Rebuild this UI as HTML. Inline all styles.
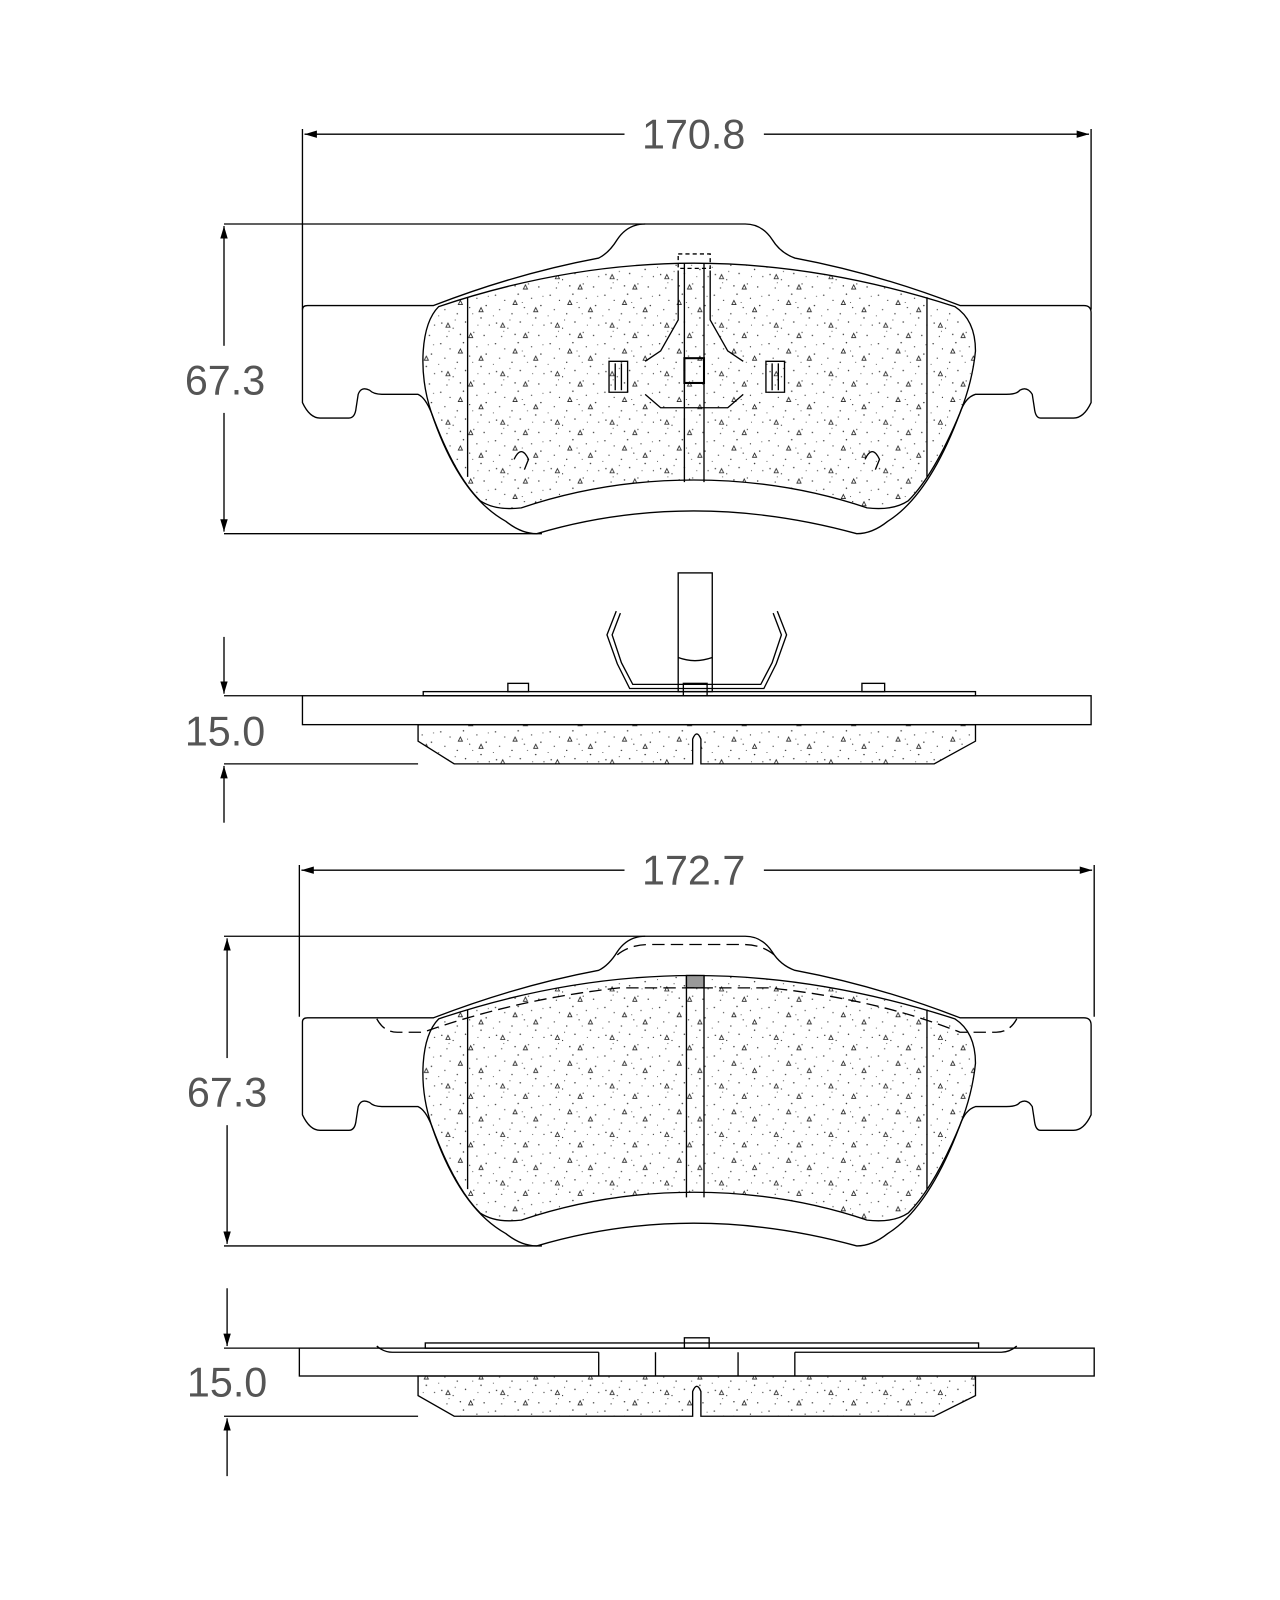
<!DOCTYPE html>
<html><head><meta charset="utf-8"><style>
html,body{margin:0;padding:0;background:#fff;}
svg{display:block;}
text{font-family:"Liberation Sans Narrow","Liberation Sans",sans-serif;font-size:40px;fill:#555;}
</style></head><body>
<svg width="1280" height="1600" viewBox="0 0 1240 1550" xmlns="http://www.w3.org/2000/svg">
<defs>
<pattern id="dots" width="53" height="47" patternUnits="userSpaceOnUse">
<g fill="#333">
<circle cx="3" cy="4" r="0.7"/><circle cx="12" cy="9" r="0.6"/><circle cx="25" cy="3" r="0.7"/><circle cx="38" cy="7" r="0.6"/><circle cx="47" cy="14" r="0.7"/>
<circle cx="7" cy="18" r="0.6"/><circle cx="19" cy="22" r="0.7"/><circle cx="31" cy="16" r="0.6"/><circle cx="42" cy="26" r="0.7"/><circle cx="50" cy="33" r="0.6"/>
<circle cx="4" cy="31" r="0.7"/><circle cx="15" cy="36" r="0.6"/><circle cx="27" cy="30" r="0.7"/><circle cx="35" cy="40" r="0.6"/><circle cx="45" cy="43" r="0.7"/>
<circle cx="9" cy="44" r="0.6"/><circle cx="22" cy="42" r="0.7"/><circle cx="29" cy="11" r="0.5"/><circle cx="17" cy="28" r="0.5"/><circle cx="39" cy="33" r="0.5"/>
<circle cx="1" cy="24" r="0.5"/><circle cx="34" cy="22" r="0.5"/><circle cx="49" cy="5" r="0.5"/><circle cx="11" cy="39" r="0.5"/>
</g>
<g fill="none" stroke="#222" stroke-width="0.8">
<path d="M20,13 l2,-4 l2,4 z"/><path d="M40,20 l2,-4 l2,4 z"/><path d="M8,35 l2,-4 l2,4 z"/><path d="M30,45 l2,-4 l2,4 z"/>
</g>
</pattern>
<marker id="ar" viewBox="0 0 10 10" refX="10" refY="5" markerWidth="12" markerHeight="12" orient="auto-start-reverse" markerUnits="userSpaceOnUse">
<path d="M0,2 L10,5 L0,8 z" fill="#000"/>
</marker>
</defs>

<g fill="none" stroke="#000" stroke-width="1.3">
<!-- ===== Pad 1 top view ===== -->
<line x1="293" y1="125" x2="293" y2="300"/>
<line x1="1057" y1="125" x2="1057" y2="300"/>
<line x1="295" y1="130" x2="605" y2="130" marker-start="url(#ar)"/>
<line x1="740" y1="130" x2="1055" y2="130" marker-end="url(#ar)"/>
<line x1="217" y1="217" x2="625" y2="217"/>
<line x1="217" y1="517" x2="525" y2="517"/>
<line x1="217" y1="219" x2="217" y2="335" marker-start="url(#ar)"/>
<line x1="217" y1="400" x2="217" y2="515" marker-end="url(#ar)"/>

<g id="plate">
<path d="M293,300 Q293,296 298,296 L420,296 Q500,265 580,250 Q590,245 598,232 Q608,217 625,217 L722,217 Q738,217 748,232 Q756,245 770,250 Q850,265 930,296 L1050,296 Q1057,296 1057,303 L1057,390 Q1050,405 1040,405 L1008,405 Q1003,405 1002,395 L1000,382 Q995,374 988,378 Q985,382 975,382 L945,382 Q935,385 930,400 Q900,480 860,505 Q845,517 830,517 Q750,495 672,495 Q594,495 520,517 Q505,517 490,505 Q445,480 418,400 Q412,385 405,382 L370,382 Q362,382 358,378 Q350,374 347,382 L345,395 Q344,405 338,405 L310,405 Q300,405 293,390 Z"/>
<path d="M425,297 Q550,255 672,255 Q795,255 925,297 Q945,310 945,340 Q942,370 930,400 Q905,460 880,485 Q865,495 840,492 Q760,465 672,465 Q585,465 505,492 Q480,495 465,485 Q440,460 418,400 Q408,370 410,340 Q412,310 425,297 Z" fill="url(#dots)"/>
<line x1="453" y1="288" x2="453" y2="462"/>
<line x1="898" y1="288" x2="898" y2="462"/>
</g>
<line x1="663" y1="255" x2="663" y2="467"/>
<line x1="682" y1="255" x2="682" y2="467"/>
<rect x="657" y="246" width="31" height="14" stroke-dasharray="4,3"/>
<rect x="663" y="347" width="19" height="24" stroke-width="2"/>
<path d="M657,262 L657,310 L640,340 L625,350"/>
<path d="M688,262 L688,310 L705,340 L720,350"/>
<path d="M625,382 L640,395 L705,395 L720,382"/>
<path d="M590,350 L608,350 L608,380 L590,380 Z M596,352 L596,378 M602,352 L602,378"/>
<path d="M742,350 L760,350 L760,380 L742,380 Z M748,352 L748,378 M754,352 L754,378"/>
<path d="M498,445 Q505,430 512,445 L508,455"/>
<path d="M838,445 Q845,430 852,445 L848,455"/>

<!-- ===== Side view 1 ===== -->
<rect x="293" y="674" width="764" height="28"/>
<path d="M405,702 L405,718 L440,740 L671,740 L671,716 Q675,706 679,716 L679,740 L905,740 L945,718 L945,702 Z" fill="url(#dots)"/>
<rect x="410" y="670" width="535" height="4"/>
<rect x="492" y="662" width="20" height="8"/>
<rect x="835" y="662" width="22" height="8"/>
<rect x="657" y="555" width="33" height="115"/>
<path d="M657,637 Q673,643 690,637"/>
<rect x="662" y="662" width="23" height="12"/>
<path d="M597,592 L588,615 L598,643 L610,667 L740,667 L752,643 L762,615 L753,592"/>
<path d="M601,594 L593,615 L602,642 L613,663 L737,663 L748,642 L757,615 L749,594"/>
<line x1="217" y1="674" x2="293" y2="674"/>
<line x1="217" y1="740" x2="405" y2="740"/>
<line x1="217" y1="617" x2="217" y2="672" marker-end="url(#ar)"/>
<line x1="217" y1="742" x2="217" y2="797" marker-start="url(#ar)"/>

<!-- ===== Pad 2 top view ===== -->
<line x1="290" y1="838" x2="290" y2="985"/>
<line x1="1060" y1="838" x2="1060" y2="985"/>
<line x1="292" y1="843" x2="605" y2="843" marker-start="url(#ar)"/>
<line x1="740" y1="843" x2="1058" y2="843" marker-end="url(#ar)"/>
<line x1="217" y1="907" x2="625" y2="907"/>
<line x1="217" y1="1207" x2="525" y2="1207"/>
<line x1="220" y1="909" x2="220" y2="1025" marker-start="url(#ar)"/>
<line x1="220" y1="1090" x2="220" y2="1205" marker-end="url(#ar)"/>
<use href="#plate" transform="translate(0,690)"/>
<line x1="665" y1="945" x2="665" y2="1160"/>
<line x1="682" y1="945" x2="682" y2="1160"/>
<rect x="665" y="945" width="17" height="12" fill="#999"/>
<path d="M598,925 Q610,915 630,915 L720,915 Q738,915 750,925" stroke-dasharray="12,6"/>
<path d="M365,987 Q372,1000 385,1000 L410,1000 Q500,968 600,957 L745,957 Q850,968 930,1000 L965,1000 Q978,1000 985,987" stroke-dasharray="12,6"/>

<!-- ===== Side view 2 ===== -->
<rect x="290" y="1306" width="770" height="27"/>
<path d="M405,1333 L405,1352 L440,1372 L671,1372 L671,1348 Q675,1338 679,1348 L679,1372 L905,1372 L945,1352 L945,1333 Z" fill="url(#dots)"/>
<path d="M365,1304 Q372,1310 380,1310 L580,1310 M770,1310 L970,1310 Q978,1310 985,1304"/>
<rect x="412" y="1301" width="536" height="5"/>
<rect x="663" y="1296" width="24" height="10"/>
<line x1="580" y1="1310" x2="580" y2="1333"/>
<line x1="635" y1="1310" x2="635" y2="1333"/>
<line x1="715" y1="1310" x2="715" y2="1333"/>
<line x1="770" y1="1310" x2="770" y2="1333"/>
<line x1="217" y1="1306" x2="290" y2="1306"/>
<line x1="217" y1="1372" x2="405" y2="1372"/>
<line x1="220" y1="1248" x2="220" y2="1304" marker-end="url(#ar)"/>
<line x1="220" y1="1374" x2="220" y2="1430" marker-start="url(#ar)"/>
</g>

<text x="672" y="144" text-anchor="middle">170.8</text>
<text x="218" y="382" text-anchor="middle">67.3</text>
<text x="218" y="722" text-anchor="middle">15.0</text>
<text x="672" y="857" text-anchor="middle">172.7</text>
<text x="220" y="1072" text-anchor="middle">67.3</text>
<text x="220" y="1353" text-anchor="middle">15.0</text>
</svg>
</body></html>
